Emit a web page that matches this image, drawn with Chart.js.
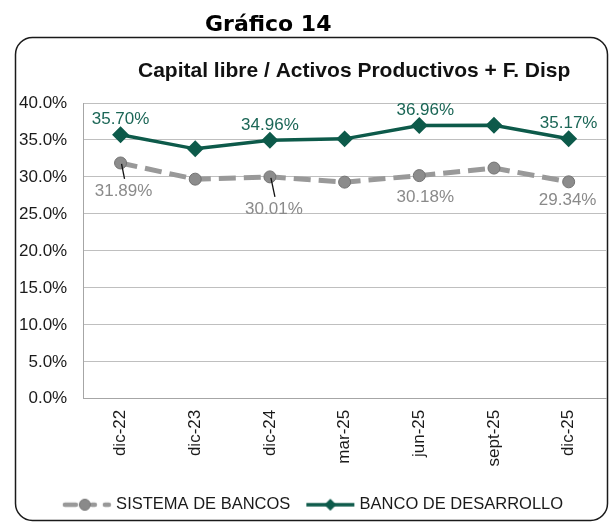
<!DOCTYPE html>
<html>
<head>
<meta charset="utf-8">
<script src="https://cdn.jsdelivr.net/npm/chart.js@4.4.1/dist/chart.umd.min.js"></script>
<style>
  html, body { margin: 0; padding: 0; background: #fff; overflow: hidden; }
  #wrap { position: relative; width: 611px; height: 524px; }
</style>
</head>
<body>
<div id="wrap"><canvas id="myChart" width="611" height="524"></canvas></div>
<script>
// chart data
const categories = ['dic-22', 'dic-23', 'dic-24', 'mar-25', 'jun-25', 'sept-25', 'dic-25'];
const sistemaBancos = [31.89, 29.7, 30.01, 29.3, 30.18, 31.2, 29.34];
const bancoDesarrollo = [35.70, 33.8, 34.96, 35.15, 36.96, 37.0, 35.17];
const yTicks = [0, 5, 10, 15, 20, 25, 30, 35, 40];

// which points get a value label
const labeledPoints = [0, 2, 4, 6];

const GREEN = '#0d5a4a';
const GRAY = '#999999';
const FONT = '"Liberation Sans", Arial';

// little legend markers: line + symbol
function legendMarker(kind) {
    const c = document.createElement('canvas');
    c.width = 50; c.height = 14;
    const g = c.getContext('2d');
    if (kind === 'gray') {
        g.strokeStyle = GRAY;
        g.lineWidth = 4.5;
        g.lineCap = 'round';
        g.beginPath(); g.moveTo(3, 7); g.lineTo(14, 7); g.stroke();
        g.beginPath(); g.moveTo(30, 7); g.lineTo(33, 7); g.stroke();
        g.beginPath(); g.moveTo(43, 7); g.lineTo(47, 7); g.stroke();
        g.fillStyle = '#8a8a8a';
        g.strokeStyle = '#777';
        g.lineWidth = 1;
        g.beginPath(); g.arc(23, 7, 5.5, 0, Math.PI * 2); g.fill(); g.stroke();
    } else {
        g.strokeStyle = GREEN;
        g.lineWidth = 3.5;
        g.beginPath(); g.moveTo(1, 7); g.lineTo(49, 7); g.stroke();
        g.fillStyle = GREEN;
        g.beginPath();
        g.moveTo(25, 1); g.lineTo(31, 7); g.lineTo(25, 13); g.lineTo(19, 7);
        g.closePath(); g.fill();
    }
    return c;
}

// frame, "Gráfico 14" heading and chart title
const framePlugin = {
    id: 'framePlugin',
    afterLayout(chart) {
        // legend sits a little right of centre
        chart.legend.left += 10;
        chart.legend.right += 10;
    },
    beforeDraw(chart) {
        const ctx = chart.ctx;
        ctx.save();
        ctx.fillStyle = '#fff';
        ctx.fillRect(0, 0, chart.width, chart.height);
        ctx.fillStyle = '#000';
        ctx.textBaseline = 'alphabetic';
        ctx.textAlign = 'left';
        ctx.font = 'bold 22px "DejaVu Sans"';
        ctx.fillText('Gráfico 14', 205, 31);
        ctx.fillStyle = '#111';
        ctx.font = 'bold 21px ' + FONT;
        ctx.fillText('Capital libre / Activos Productivos + F. Disp', 138, 77);
        ctx.strokeStyle = '#1a1a1a';
        ctx.lineWidth = 1.5;
        ctx.beginPath();
        ctx.roundRect(15.5, 37.5, 592, 483, 17);
        ctx.stroke();
        ctx.restore();
    }
};

// value labels
const valueLabels = {
    id: 'valueLabels',
    afterDatasetsDraw(chart) {
        const ctx = chart.ctx;
        ctx.save();
        ctx.font = '17px ' + FONT;
        ctx.textAlign = 'center';
        ctx.textBaseline = 'middle';
        // green series above
        const gMeta = chart.getDatasetMeta(1);
        const gdx = [0, 0, 0, 0, 6, 0, 0];
        ctx.fillStyle = '#1b6656';
        labeledPoints.forEach(i => {
            const p = gMeta.data[i];
            ctx.fillText(bancoDesarrollo[i].toFixed(2) + '%', p.x + gdx[i], p.y - 15);
        });
        // gray series below, two with leader lines
        const sMeta = chart.getDatasetMeta(0);
        const dy = [28, 0, 32, 0, 22, 0, 18];
        const dx = [3, 0, 4, 0, 6, 0, -1];
        labeledPoints.forEach(i => {
            const p = sMeta.data[i];
            if (i === 0 || i === 2) {
                ctx.strokeStyle = '#111';
                ctx.lineWidth = 1.3;
                ctx.beginPath();
                ctx.moveTo(p.x + 1, p.y + 1);
                ctx.lineTo(p.x + dx[i] + 1, p.y + dy[i] - 12);
                ctx.stroke();
            }
            ctx.fillStyle = '#8a8a8a';
            ctx.fillText(sistemaBancos[i].toFixed(2) + '%', p.x + dx[i], p.y + dy[i]);
        });
        ctx.restore();
    }
};

const ctx = document.getElementById('myChart').getContext('2d');
new Chart(ctx, {
    type: 'line',
    data: {
        labels: categories,
        datasets: [{
            label: 'SISTEMA DE BANCOS',
            data: sistemaBancos,
            borderColor: GRAY,
            borderWidth: 5,
            borderDash: [17, 8],
            pointStyle: 'circle',
            pointRadius: 6,
            pointBackgroundColor: '#8c8c8c',
            pointBorderColor: '#737373',
            pointBorderWidth: 1,
            tension: 0
        }, {
            label: 'BANCO DE DESARROLLO',
            data: bancoDesarrollo,
            borderColor: GREEN,
            borderWidth: 3.5,
            pointStyle: 'rectRot',
            pointRadius: 6,
            pointBackgroundColor: GREEN,
            pointBorderColor: GREEN,
            tension: 0
        }]
    },
    options: {
        responsive: false,
        animation: false,
        layout: { autoPadding: false, padding: { top: 103, left: 3, right: 5, bottom: 1 } },
        scales: {
            x: {
                offset: true,
                grid: { display: false, drawTicks: false },
                border: { color: '#a6a6a6', width: 1 },
                ticks: {
                    minRotation: 90, maxRotation: 90,
                    padding: 11,
                    color: '#1a1a1a',
                    font: { family: FONT, size: 17 }
                }
            },
            y: {
                min: 0, max: 40,
                afterBuildTicks: axis => { axis.ticks = yTicks.map(v => ({ value: v })); },
                grid: { color: '#bfbfbf', drawTicks: false },
                border: { color: '#a6a6a6', width: 1 },
                ticks: {
                    padding: 16,
                    color: '#1a1a1a',
                    font: { family: FONT, size: 17 },
                    callback: v => v.toFixed(1) + '%'
                }
            }
        },
        plugins: {
            title: { display: false },
            legend: {
                position: 'bottom',
                labels: {
                    usePointStyle: true,
                    pointStyleWidth: 42,
                    color: '#1a1a1a',
                    padding: 19,
                    font: { family: FONT, size: 16.5 },
                    generateLabels: chart => chart.data.datasets.map((ds, i) => ({
                        text: ds.label,
                        pointStyle: legendMarker(i === 0 ? 'gray' : 'green'),
                        fontColor: '#1a1a1a',
                        datasetIndex: i,
                        lineWidth: 0
                    }))
                }
            },
            tooltip: { enabled: false }
        }
    },
    plugins: [framePlugin, valueLabels]
});
</script>
</body>
</html>
